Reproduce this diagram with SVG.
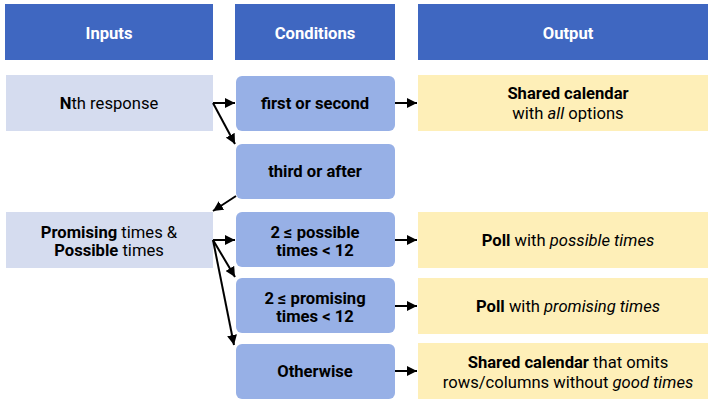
<svg xmlns="http://www.w3.org/2000/svg" width="708" height="400" viewBox="0 0 708 400">
<defs>
<marker id="ah" viewBox="0 0 10 10" refX="10" refY="5" markerWidth="5" markerHeight="5" orient="auto" markerUnits="strokeWidth">
<path d="M0,0 L10,5 L0,10 z" fill="#000"/>
</marker>
<style>
.hdr{fill:#3f67c1}
.inp{fill:#d5dcef}
.cond{fill:#97b0e6}
.out{fill:#feefb8}
text{font-family:Roboto,"Liberation Sans",sans-serif;font-size:16.6px;text-anchor:middle;fill:#000}
.ht{fill:#fff;font-weight:bold}
.b{font-weight:bold}
.i{font-style:italic}
.conn line{stroke:#000;stroke-width:2;marker-end:url(#ah)}
</style>
</defs>
<g id="h-inputs"><rect class="hdr" x="5" y="4" width="208" height="56"/><text class="ht" x="109" y="39">Inputs</text></g>
<g id="h-conditions"><rect class="hdr" x="235" y="4" width="160" height="56"/><text class="ht" x="315" y="39">Conditions</text></g>
<g id="h-output"><rect class="hdr" x="418" y="4" width="290" height="56"/><text class="ht" x="568" y="39">Output</text></g>

<g id="in-nth"><rect class="inp" x="6" y="75" width="207" height="56"/><text x="109" y="109"><tspan class="b">N</tspan>th response</text></g>
<g id="in-times"><rect class="inp" x="6" y="212" width="207" height="56"/><text x="109" y="238"><tspan class="b">Promising</tspan> times &amp;</text><text x="109" y="256"><tspan class="b">Possible</tspan> times</text></g>

<g id="c-first"><rect class="cond" x="236" y="76" width="159" height="55" rx="6"/><text class="b" x="315" y="109">first or second</text></g>
<g id="c-third"><rect class="cond" x="236" y="144" width="159" height="55" rx="6"/><text class="b" x="315" y="177">third or after</text></g>
<g id="c-possible"><rect class="cond" x="236" y="212" width="159" height="55" rx="6"/><text class="b" x="315" y="237.5">2 ≤ possible</text><text class="b" x="315" y="255.5">times &lt; 12</text></g>
<g id="c-promising"><rect class="cond" x="236" y="278" width="159" height="55" rx="6"/><text class="b" x="315" y="303.5">2 ≤ promising</text><text class="b" x="315" y="321.5">times &lt; 12</text></g>
<g id="c-otherwise"><rect class="cond" x="236" y="344" width="159" height="55" rx="6"/><text class="b" x="315" y="377">Otherwise</text></g>

<g id="o-shared"><rect class="out" x="418" y="75" width="290" height="56"/><text x="568" y="99" class="b">Shared calendar</text><text x="568" y="119">with <tspan class="i">all</tspan> options</text></g>
<g id="o-poll-possible"><rect class="out" x="418" y="212" width="290" height="56"/><text x="568" y="246"><tspan class="b">Poll</tspan> with <tspan class="i">possible times</tspan></text></g>
<g id="o-poll-promising"><rect class="out" x="418" y="278" width="290" height="56"/><text x="568" y="311.5"><tspan class="b">Poll</tspan> with <tspan class="i">promising times</tspan></text></g>
<g id="o-shared-omit"><rect class="out" x="418" y="343" width="290" height="56"/><text x="568" y="367.5"><tspan class="b">Shared calendar</tspan> that omits</text><text x="568" y="387.5">rows/columns without <tspan class="i">good times</tspan></text></g>

<g id="connectors" class="conn">
<line x1="213" y1="103" x2="235" y2="103"/>
<line x1="213" y1="103" x2="235" y2="144"/>
<line x1="236" y1="196" x2="213" y2="211"/>
<line x1="213" y1="240" x2="235" y2="240"/>
<line x1="213" y1="240" x2="235" y2="277"/>
<line x1="213" y1="240" x2="234" y2="345"/>
<line x1="395" y1="103" x2="417" y2="103"/>
<line x1="395" y1="240" x2="417" y2="240"/>
<line x1="395" y1="306" x2="417" y2="306"/>
<line x1="395" y1="371" x2="417" y2="371"/>
</g>
</svg>
